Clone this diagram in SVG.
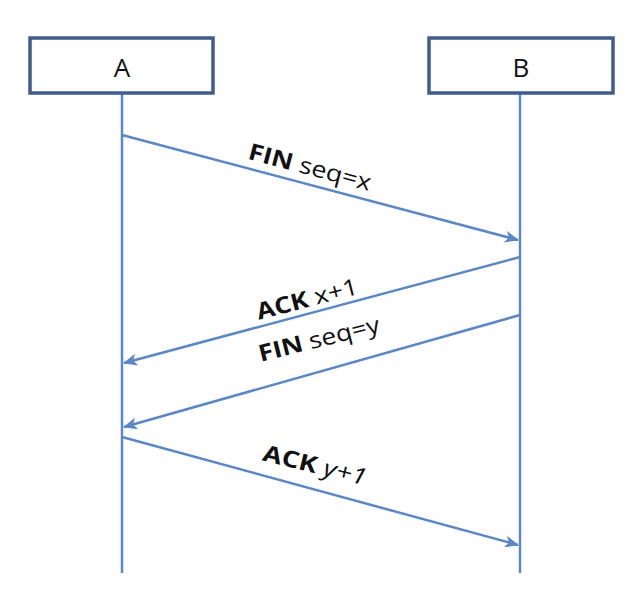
<svg xmlns="http://www.w3.org/2000/svg" width="636" height="600" viewBox="0 0 636 600">
<style>
.box{fill:#ffffff;stroke:#3f5d8c;stroke-width:3.5}
.name{font-family:"Open Sans","Liberation Sans",sans-serif;font-size:26px;fill:#111;text-anchor:middle}
.life{stroke:#5b87c6;stroke-width:2.5;fill:none}
.msg{stroke:#5b87c6;stroke-width:2.5;fill:none;marker-end:url(#ah)}
.lbl{font-family:"Open Sans","Liberation Sans",sans-serif;font-size:23px;fill:#111;text-anchor:middle}
.b{font-weight:bold}
</style>
<defs>
<marker id="ah" viewBox="0 0 14 12" refX="13" refY="6" markerWidth="14" markerHeight="12" markerUnits="userSpaceOnUse" orient="auto">
<path d="M0,0 L14,6 L0,12 L3.5,6 Z" fill="#5b87c6"/>
</marker>
</defs>
<rect width="636" height="600" fill="#ffffff"/>
<g id="lifelines">
<line class="life" x1="122" y1="93" x2="122" y2="573"/>
<line class="life" x1="520" y1="93" x2="520" y2="573"/>
</g>
<g id="A">
<rect class="box" x="30" y="38" width="183" height="55"/>
<text class="name" x="122" y="77">A</text>
</g>
<g id="B">
<rect class="box" x="429" y="38" width="184" height="55"/>
<text class="name" x="521" y="77">B</text>
</g>
<g id="connectors">
<line class="msg" x1="122" y1="135" x2="518" y2="240"/>
<line class="msg" x1="520" y1="257" x2="124" y2="363"/>
<line class="msg" x1="520" y1="315" x2="124" y2="427"/>
<line class="msg" x1="122" y1="437" x2="518" y2="545"/>
</g>
<g id="labels">
<text class="lbl" transform="translate(310,167) rotate(14.7)" dy="8" textLength="126" lengthAdjust="spacingAndGlyphs"><tspan class="b">FIN</tspan> seq=x</text>
<text class="lbl" transform="translate(307,299) rotate(-14.5)" dy="8" textLength="104" lengthAdjust="spacingAndGlyphs"><tspan class="b">ACK</tspan> x+1</text>
<text class="lbl" transform="translate(319,339) rotate(-14)" dy="8" textLength="124" lengthAdjust="spacingAndGlyphs"><tspan class="b">FIN</tspan> seq=y</text>
<text class="lbl" transform="translate(315,465) rotate(13.8)" dy="8" textLength="106" lengthAdjust="spacingAndGlyphs"><tspan class="b">ACK</tspan> <tspan font-style="italic">y+1</tspan></text>
</g>
</svg>
